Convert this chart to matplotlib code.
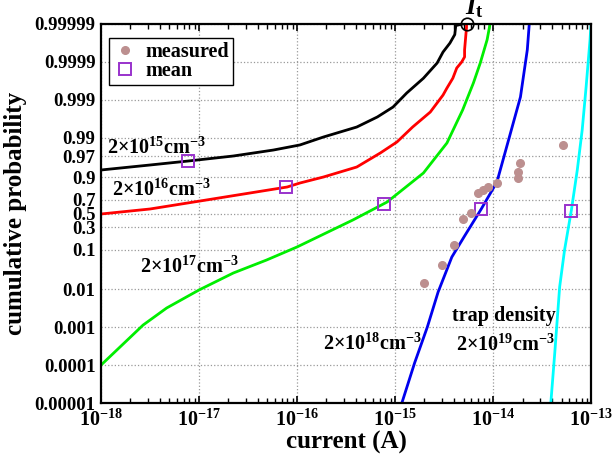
import numpy as np
import matplotlib.pyplot as plt
from matplotlib.ticker import FixedLocator, NullLocator

plt.rcParams['font.family'] = 'Liberation Serif'
plt.rcParams['font.weight'] = 'bold'
plt.rcParams['axes.labelweight'] = 'bold'
plt.rcParams['mathtext.fontset'] = 'custom'
plt.rcParams['mathtext.rm'] = 'Liberation Serif:bold'
plt.rcParams['mathtext.bf'] = 'Liberation Serif:bold'
plt.rcParams['mathtext.it'] = 'Liberation Serif:bold:italic'
plt.rcParams['mathtext.default'] = 'bf'

# log10 of current (A) and cumulative probability for each trap density
logI_15 = [-18.0, -17.5, -17.11, -16.65, -16.24, -15.97, -15.73, -15.39, -15.18,
           -15.02, -14.88, -14.71, -14.57, -14.51, -14.44, -14.39, -14.38, -14.31]
p_15 = [0.9336, 0.9501, 0.9604, 0.9705, 0.9793, 0.9847, 0.9905, 0.9948, 0.99717,
        0.99845, 0.99934, 0.99973, 0.999893, 0.999945, 0.999968, 0.999981, 0.999989, 0.99999]

logI_16 = [-18.0, -17.5, -16.99, -16.48, -16.10, -15.97, -15.73, -15.39, -15.15, -14.98,
           -14.82, -14.64, -14.51, -14.47, -14.41, -14.37, -14.32, -14.29, -14.29, -14.27, -14.27]
p_16 = [0.4924, 0.568, 0.681, 0.7765, 0.8334, 0.8644, 0.9018, 0.9440, 0.9753, 0.9872,
        0.9948, 0.9979, 0.99925, 0.99951, 0.99973, 0.999855, 0.999899, 0.999926, 0.999952,
        0.999988, 0.99999]

logI_17 = [-18.0, -17.57, -17.33, -17.0, -16.65, -16.31, -16.0, -15.43, -15.08, -14.71,
           -14.47, -14.31, -14.20, -14.13, -14.06, -14.03]
p_17 = [0.0001, 0.00114, 0.0032, 0.0095, 0.0262, 0.056, 0.1156, 0.4026, 0.668, 0.9213,
        0.9864, 0.99814, 0.99964, 0.999893, 0.999974, 0.99999]

logI_18 = [-14.93, -14.80, -14.67, -14.56, -14.42, -14.29, -14.12, -13.96, -13.83, -13.72,
           -13.65, -13.63]
p_18 = [0.00001, 0.000114, 0.00101, 0.00842, 0.0664, 0.2032, 0.568, 0.8715, 0.99106,
        0.999157, 0.999952, 0.99999]

logI_19 = [-13.41, -13.37, -13.32, -13.27, -13.20, -13.14, -13.09, -13.05, -13.01, -13.0]
p_19 = [0.00001, 0.000208, 0.01138, 0.0981, 0.553, 0.9336, 0.99378, 0.999541, 0.999974, 0.99999]

# measured devices
logI_meas = [-14.70, -14.52, -14.40, -14.31, -14.22, -14.15, -14.10, -14.05, -13.96,
             -13.74, -13.74, -13.72, -13.29]
p_meas = [0.01445, 0.0419, 0.1285, 0.417, 0.5076, 0.7765, 0.8065, 0.8334, 0.8644,
          0.8963, 0.9256, 0.9556, 0.9847]

# mean of each distribution
logI_mean = [-17.11, -16.11, -15.11, -14.12, -13.20]
p_mean = [0.9604, 0.8334, 0.6404, 0.568, 0.538]

# threshold current I_t
logI_t = -14.27
p_t = 0.99999

densities = ['15', '16', '17', '18', '19']
curves = [(logI_15, p_15, 'black'), (logI_16, p_16, 'red'), (logI_17, p_17, '#00ee00'),
          (logI_18, p_18, '#0000ee'), (logI_19, p_19, 'cyan')]

yticks = [0.00001, 0.0001, 0.001, 0.01, 0.1, 0.3, 0.5, 0.7, 0.9, 0.97, 0.99,
          0.999, 0.9999, 0.99999]
ytick_labels = ['0.00001', '0.0001', '0.001', '0.01', '0.1', '0.3', '0.5', '0.7', '0.9',
                '0.97', '0.99', '0.999', '0.9999', '0.99999']

fig = plt.figure(figsize=(6.12, 4.65), dpi=100)
ax = fig.add_axes([0.165, 0.1333, 0.8007, 0.8151])

for lx, py, c in curves:
    ax.plot(10 ** np.array(lx), py, color=c, lw=2)

ax.plot(10 ** np.array(logI_mean), p_mean, 's', ms=8, mfc='none', mec='#9932cc',
        mew=1.4, label='mean', zorder=4)
ax.plot(10 ** np.array(logI_meas), p_meas, 'o', ms=5.5, color='#bc8f8f',
        label='measured', zorder=5)
ax.plot(10 ** logI_t, p_t, 'o', ms=9, mfc='none', mec='black', mew=1.2,
        clip_on=False, zorder=6)
ax.annotate(r'$\mathit{I}_{\mathrm{t}}$', (10 ** logI_t, p_t), xytext=(-1, 3),
            textcoords='offset points', ha='left', va='bottom', fontsize=19)

ax.set_xscale('log')
ax.set_yscale('logit')
ax.set_xlim(1e-18, 1e-13)
ax.set_ylim(0.00001, 0.99999)
ax.yaxis.set_major_locator(FixedLocator(yticks))
ax.yaxis.set_minor_locator(NullLocator())
ax.set_yticklabels(ytick_labels)

ax.grid(True, which='major', ls=':', color='#999999', lw=0.9)
ax.tick_params(axis='x', which='both', direction='in', top=True, labelsize=14.5)
ax.tick_params(axis='x', which='major', length=5, width=1.2, pad=5)
ax.tick_params(axis='x', which='minor', length=3.5, width=1)
ax.tick_params(axis='y', which='both', length=0, labelsize=13.5, pad=4)
for s in ax.spines.values():
    s.set_linewidth(1.6)

ax.set_xlabel('current (A)', fontsize=18, fontweight='bold', labelpad=0)
ax.set_ylabel('cumulative probability', fontsize=18, fontweight='bold', labelpad=5)

# trap density labels
label_pos = [(0.012, 0.657), (0.022, 0.546), (0.080, 0.343), (0.453, 0.140), (0.724, 0.137)]
for d, (tx, ty) in zip(densities, label_pos):
    ax.text(tx, ty, r'$2{\times}10^{%s}\mathrm{cm}^{-3}$' % d, transform=ax.transAxes,
            fontsize=14.5, va='baseline', ha='left')
ax.text(0.716, 0.216, 'trap density', transform=ax.transAxes, fontsize=14.5,
        va='baseline', ha='left')

handles, labels = ax.get_legend_handles_labels()
leg = ax.legend(handles[::-1], labels[::-1], loc='upper left', bbox_to_anchor=(0.016, 0.963),
                borderaxespad=0, fancybox=False, edgecolor='black', framealpha=1,
                fontsize=14.5, labelspacing=-0.05, borderpad=0.2, handletextpad=0.4,
                handlelength=1.2)
leg.get_frame().set_linewidth(1.0)

fig.savefig('out.png', dpi=100)
